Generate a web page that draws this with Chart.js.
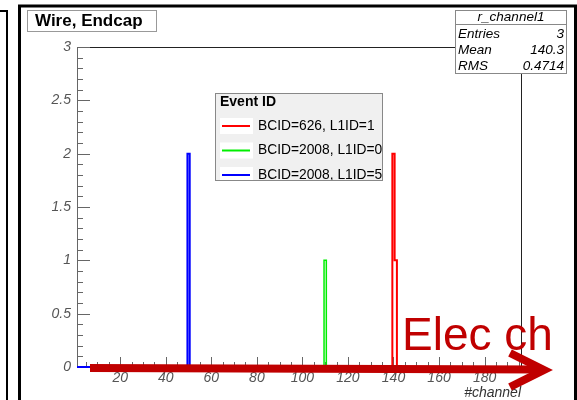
<!DOCTYPE html>
<html>
<head>
<meta charset="utf-8">
<script src="https://cdn.jsdelivr.net/npm/chart.js@4/dist/chart.umd.min.js"></script>
<style>
  html, body { margin: 0; padding: 0; background: #fff; }
  #wrap { width: 577px; height: 400px; position: relative; }
</style>
</head>
<body>
<div id="wrap"><canvas id="c" width="577" height="400"></canvas></div>
<script>
// Channel occupancy per event (bin = one channel)
const seriesLabels = ['BCID=626, L1ID=1', 'BCID=2008, L1ID=0', 'BCID=2008, L1ID=5'];
const seriesColors = ['#ff0000', '#00ee00', '#0000ff'];
const redChannels = [140, 141];
const redCounts = [2, 1];
const greenChannels = [110];
const greenCounts = [1];
const blueChannels = [50];
const blueCounts = [2];
const xTicks = [20, 40, 60, 80, 100, 120, 140, 160, 180];
const yTicks = [0, 0.5, 1, 1.5, 2, 2.5, 3];
const xMin = 1, xMax = 196;
const statsRows = [['Entries', '3'], ['Mean', '140.3'], ['RMS', '0.4714']];

// Histogram outline (ROOT-style step line) from bins
function outline(chs, counts) {
  const bins = chs.map((c, i) => ({ lo: c - 0.5, hi: c + 0.5, n: counts[i] })).sort((a, b) => a.lo - b.lo);
  const pts = [{ x: xMin, y: 0 }];
  let prevHi = null, prevN = 0;
  for (const b of bins) {
    if (prevHi !== null && Math.abs(b.lo - prevHi) > 1e-9) { pts.push({ x: prevHi, y: 0 }); prevN = 0; }
    pts.push({ x: b.lo, y: prevN }, { x: b.lo, y: b.n }, { x: b.hi, y: b.n });
    prevHi = b.hi; prevN = b.n;
  }
  pts.push({ x: prevHi, y: 0 }, { x: xMax, y: 0 });
  return pts;
}

const FONT = '"Liberation Sans", Arial, Helvetica, sans-serif';

const decorations = {
  id: 'decorations',
  beforeDatasetsDraw(chart) {
    const ctx = chart.ctx, xs = chart.scales.x, ys = chart.scales.y;
    const a = chart.chartArea;
    ctx.save();
    // frame
    ctx.strokeStyle = '#222'; ctx.lineWidth = 1;
    ctx.beginPath();
    ctx.moveTo(a.left, a.top + 0.5); ctx.lineTo(a.right + 0.5, a.top + 0.5);
    ctx.lineTo(a.right + 0.5, a.bottom);
    ctx.stroke();
    // axes
    ctx.strokeStyle = '#666';
    ctx.beginPath();
    ctx.moveTo(a.left + 0.5, a.top); ctx.lineTo(a.left + 0.5, a.bottom + 0.5);
    ctx.lineTo(a.right, a.bottom + 0.5);
    // y ticks: every 0.1, long at 0.5
    for (let i = 0; i <= 30; i++) {
      const v = i / 10, py = Math.round(ys.getPixelForValue(v)) + 0.5;
      const len = (i % 5 === 0) ? 13 : 6;
      ctx.moveTo(a.left, py); ctx.lineTo(a.left + len, py);
    }
    // x ticks: every 5, long at 20
    for (let v = 5; v < xMax; v += 5) {
      const px = Math.round(xs.getPixelForValue(v)) + 0.5;
      const len = (v % 20 === 0) ? 10 : 5;
      ctx.moveTo(px, a.bottom); ctx.lineTo(px, a.bottom - len);
    }
    ctx.stroke();
    ctx.restore();
  },
  afterDraw(chart) {
    const ctx = chart.ctx;
    ctx.save();

    // pad borders
    ctx.strokeStyle = '#000';
    ctx.lineWidth = 3;
    ctx.beginPath();
    ctx.moveTo(19.5, 400); ctx.lineTo(19.5, 6); ctx.lineTo(575.5, 6); ctx.lineTo(575.5, 400);
    ctx.stroke();
    ctx.lineWidth = 2;
    ctx.beginPath();
    ctx.moveTo(0, 11); ctx.lineTo(7, 11); ctx.lineTo(7, 400);
    ctx.stroke();

    // title box
    ctx.fillStyle = '#fff';
    ctx.fillRect(27, 10, 129, 22);
    ctx.strokeStyle = '#999'; ctx.lineWidth = 1;
    ctx.strokeRect(27.5, 10.5, 129, 21);
    ctx.fillStyle = '#000';
    ctx.font = 'bold 17px ' + FONT;
    ctx.textBaseline = 'middle'; ctx.textAlign = 'left';
    ctx.fillText('Wire, Endcap', 35, 21.5);

    // stats box
    ctx.fillStyle = '#fff';
    ctx.fillRect(455, 10, 111, 64);
    ctx.strokeStyle = '#888';
    ctx.strokeRect(455.5, 10.5, 111, 63);
    ctx.beginPath(); ctx.moveTo(455, 24.5); ctx.lineTo(566, 24.5); ctx.stroke();
    ctx.fillStyle = '#000';
    ctx.font = 'italic 13.5px ' + FONT;
    ctx.textAlign = 'center';
    ctx.fillText('r_channel1', 511, 17);
    statsRows.forEach((r, i) => {
      const y = 34 + i * 16;
      ctx.textAlign = 'left'; ctx.fillText(r[0], 458, y);
      ctx.textAlign = 'right'; ctx.fillText(r[1], 564, y);
    });

    // legend
    const lx = 215, ly = 93, lw = 167, lh = 87;
    ctx.fillStyle = '#f0f0f0';
    ctx.fillRect(lx, ly, lw, lh);
    ctx.strokeStyle = '#888';
    ctx.strokeRect(lx + 0.5, ly + 0.5, lw, lh);
    ctx.save();
    ctx.beginPath(); ctx.rect(lx, ly, lw, lh); ctx.clip();
    ctx.fillStyle = '#000';
    ctx.textAlign = 'left';
    ctx.font = 'bold 14px ' + FONT;
    ctx.fillText('Event ID', 220, 102);
    ctx.font = '13.8px ' + FONT;
    chart.data.datasets.forEach((ds, i) => {
      const y = 126 + i * 24.5;
      ctx.fillStyle = '#fff';
      ctx.fillRect(220, y - 8, 33, 16);
      ctx.strokeStyle = ds.borderColor; ctx.lineWidth = 2;
      ctx.beginPath(); ctx.moveTo(222, y); ctx.lineTo(250, y); ctx.stroke();
      ctx.fillStyle = '#000';
      ctx.fillText(ds.label, 258, y);
    });
    ctx.restore();

    // axis title
    ctx.fillStyle = '#333';
    ctx.font = 'italic 14px ' + FONT;
    ctx.textAlign = 'right'; ctx.textBaseline = 'alphabetic';
    ctx.fillText('#channel', 521, 397);

    // annotation arrow
    ctx.strokeStyle = '#c00000'; ctx.fillStyle = '#c00000';
    ctx.lineWidth = 8; ctx.lineCap = 'butt'; ctx.lineJoin = 'miter';
    ctx.beginPath(); ctx.moveTo(90, 368); ctx.lineTo(542, 369.5); ctx.stroke();
    ctx.beginPath(); ctx.moveTo(510, 353); ctx.lineTo(544, 370); ctx.lineTo(510, 387); ctx.stroke();
    ctx.font = '46px ' + FONT;
    ctx.textAlign = 'left'; ctx.textBaseline = 'alphabetic';
    ctx.fillText('Elec ch', 402, 350);

    ctx.restore();
  }
};

const datasets = [
  { label: seriesLabels[0], data: outline(redChannels, redCounts), borderColor: seriesColors[0], borderWidth: 2, order: 2 },
  { label: seriesLabels[1], data: outline(greenChannels, greenCounts), borderColor: seriesColors[1], borderWidth: 1.5, order: 1 },
  { label: seriesLabels[2], data: outline(blueChannels, blueCounts), borderColor: seriesColors[2], borderWidth: 2, order: 0 }
].map(d => Object.assign(d, { pointRadius: 0, fill: false, tension: 0, clip: false, showLine: true }));

new Chart(document.getElementById('c'), {
  type: 'scatter',
  data: { datasets },
  options: {
    responsive: false,
    animation: false,
    devicePixelRatio: 1,
    layout: { padding: { top: 47, right: 56, left: 0, bottom: 0 } },
    plugins: { legend: { display: false }, tooltip: { enabled: false } },
    scales: {
      x: {
        type: 'linear', min: xMin, max: xMax,
        grid: { display: false, drawTicks: false },
        border: { display: false },
        afterBuildTicks: s => { s.ticks = xTicks.map(v => ({ value: v })); },
        afterFit: s => { s.height = 33; },
        ticks: { padding: 3, color: '#555', font: { family: FONT, size: 14, style: 'italic' }, maxRotation: 0, autoSkip: false }
      },
      y: {
        type: 'linear', min: 0, max: 3,
        grid: { display: false, drawTicks: false },
        border: { display: false },
        afterBuildTicks: s => { s.ticks = yTicks.map(v => ({ value: v })); },
        afterFit: s => { s.width = 77; },
        ticks: { padding: 6, color: '#555', font: { family: FONT, size: 14, style: 'italic' }, autoSkip: false,
          callback: v => String(v) }
      }
    }
  },
  plugins: [decorations]
});
</script>
</body>
</html>
